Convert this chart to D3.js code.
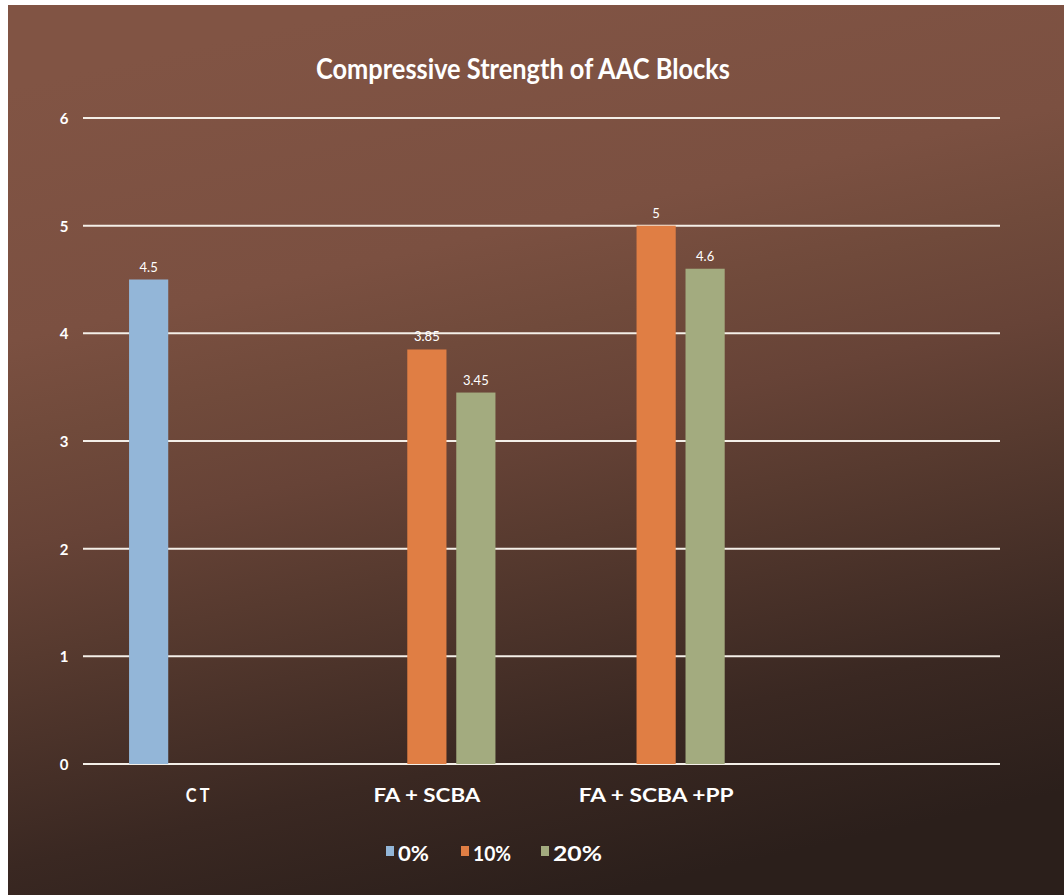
<!DOCTYPE html>
<html>
<head>
<meta charset="utf-8">
<script src="https://cdn.jsdelivr.net/npm/d3@7"></script>
<style>
  html, body { margin: 0; padding: 0; background: #ffffff; }
  svg { display: block; }
  text { font-family: "Lato", "Open Sans", sans-serif; fill: #ffffff; }
</style>
</head>
<body>
<svg id="chart" width="1064" height="895"></svg>
<script>
// ---- data ----
const categories = ["C T", "FA + SCBA", "FA + SCBA +PP", ""];
const seriesNames = ["0%", "10%", "20%"];
const values0 = [4.5, null, null, null];
const values10 = [null, 3.85, 5, null];
const values20 = [null, 3.45, 4.6, null];
const valueLabels0 = ["4.5", "", "", ""];
const valueLabels10 = ["", "3.85", "5", ""];
const valueLabels20 = ["", "3.45", "4.6", ""];
const yTicks = [0, 1, 2, 3, 4, 5, 6];
const title = "Compressive Strength of AAC Blocks";
const colors = ["#93b6d8", "#e07e44", "#a3ab7f"];

const seriesValues = [values0, values10, values20];
const seriesLabels = [valueLabels0, valueLabels10, valueLabels20];

const svg = d3.select("#chart");

// background
const defs = svg.append("defs");
const grad = defs.append("linearGradient")
  .attr("id", "bg").attr("gradientUnits", "userSpaceOnUse")
  .attr("x1", 400).attr("y1", 0).attr("x2", 600).attr("y2", 895);
[[0, "#815444"], [0.27, "#7b5041"], [0.38, "#704a3b"], [0.49, "#674337"],
 [0.61, "#573a2f"], [0.83, "#3a2822"], [1, "#2b1f1b"]].forEach(([o, c]) =>
  grad.append("stop").attr("offset", o).attr("stop-color", c));
svg.append("rect").attr("x", 8).attr("y", 5).attr("width", 1056).attr("height", 890)
  .attr("fill", "url(#bg)");

// scales
const y = d3.scaleLinear().domain([0, 6]).range([764, 118]);
const x0 = d3.scaleBand().domain(categories).range([83, 1000]).padding(0);
const x1 = d3.scaleBand().domain(seriesNames).range([0, x0.bandwidth()])
  .paddingInner(0.2).paddingOuter(0.94);

// gridlines
svg.append("g").selectAll("line").data(yTicks).join("line")
  .attr("x1", 83).attr("x2", 1000)
  .attr("y1", d => y(d)).attr("y2", d => y(d))
  .attr("stroke", "#f4efe8").attr("stroke-width", 2);

// y axis labels
const yAxis = svg.append("g").attr("transform", "translate(70,0)")
  .call(d3.axisLeft(y).tickValues(yTicks).tickSize(0).tickPadding(2).tickFormat(d3.format("d")));
yAxis.attr("font-size", 15).attr("font-family", "Lato, sans-serif").attr("font-weight", "bold");
yAxis.select(".domain").remove();
yAxis.selectAll("text").attr("fill", "#ffffff")
  .attr("text-anchor", "middle").attr("x", -6).attr("dy", "0.36em");

// bars
seriesNames.forEach((s, si) => {
  const g = svg.append("g");
  const data = categories.map((c, ci) => ({ c, v: seriesValues[si][ci], l: seriesLabels[si][ci] }))
    .filter(d => d.v != null);
  g.selectAll("rect").data(data).join("rect")
    .attr("x", d => x0(d.c) + x1(s))
    .attr("y", d => y(d.v))
    .attr("width", x1.bandwidth())
    .attr("height", d => y(0) - y(d.v))
    .attr("fill", colors[si]);
  g.selectAll("text").data(data).join("text")
    .attr("x", d => x0(d.c) + x1(s) + x1.bandwidth() / 2)
    .attr("y", d => y(d.v) - 8)
    .attr("text-anchor", "middle")
    .attr("font-size", 13)
    .text(d => d.l);
});

// x axis labels
const xAxis = svg.append("g").attr("transform", "translate(0,764)")
  .call(d3.axisBottom(x0).tickSize(0).tickPadding(0));
xAxis.attr("font-size", null).attr("font-family", null);
xAxis.select(".domain").remove();
xAxis.selectAll("text")
  .attr("y", 38).attr("dy", null)
  .style("font-size", "19px").style("font-weight", "bold")
  .style("fill", "#ffffff")
  .each(function(d) {
    const w = { "C T": 24, "FA + SCBA": 107, "FA + SCBA +PP": 155 }[d];
    if (w) d3.select(this).attr("textLength", w).attr("lengthAdjust", "spacingAndGlyphs");
  });

// title
svg.append("text").attr("x", 523).attr("y", 79)
  .attr("text-anchor", "middle").attr("font-size", 28).attr("font-weight", "bold")
  .attr("textLength", 414).attr("lengthAdjust", "spacingAndGlyphs")
  .text(title);

// legend
const legendX = [386, 461, 541];
const legendW = [31, 38, 49];
const legend = svg.append("g");
seriesNames.forEach((s, i) => {
  legend.append("rect").attr("x", legendX[i]).attr("y", 846).attr("width", 8).attr("height", 10)
    .attr("fill", colors[i]);
  legend.append("text").attr("x", legendX[i] + 12).attr("y", 861)
    .attr("font-size", 20).attr("font-weight", "bold")
    .attr("textLength", legendW[i]).attr("lengthAdjust", "spacingAndGlyphs")
    .text(s);
});
</script>
</body>
</html>
